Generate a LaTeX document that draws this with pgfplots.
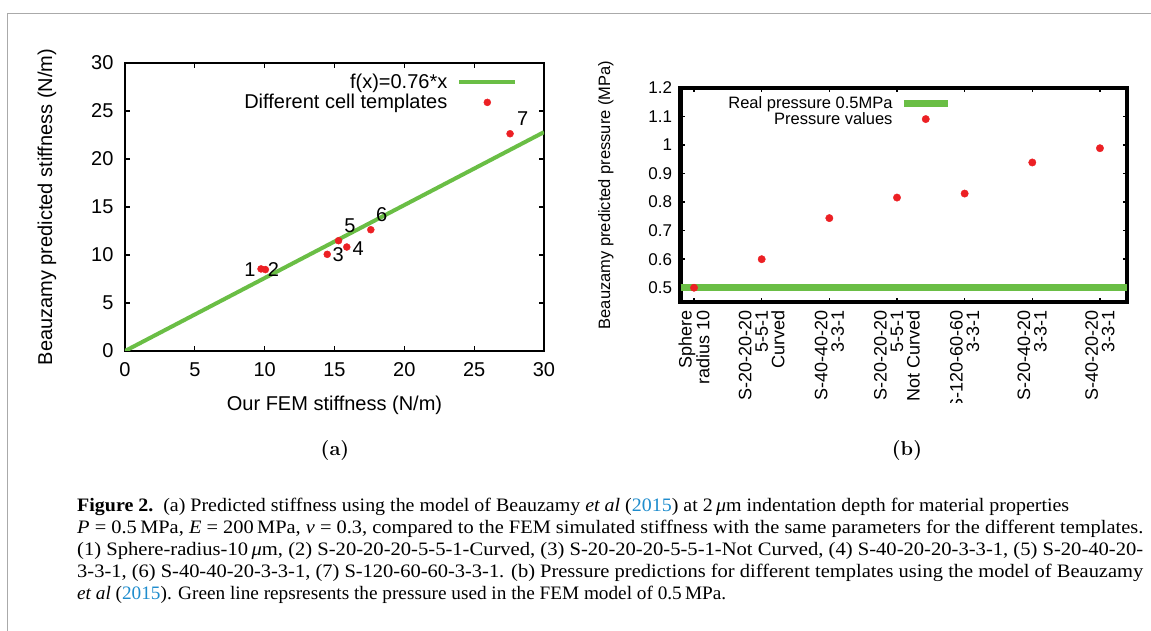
\documentclass[border=0pt]{standalone}
\usepackage{fontspec}
\usepackage{graphicx}
\usepackage{pgfplots}
\pgfplotsset{compat=1.18}
\newfontfamily\plotfont{Liberation Sans}
\newfontfamily\capfont{Liberation Serif}
\definecolor{fitgreen}{RGB}{106,190,69}
\definecolor{ptred}{RGB}{236,32,36}
\definecolor{citeblue}{RGB}{30,140,205}
\definecolor{framegray}{RGB}{170,170,170}

% legend samples: #1 = gap before sample, then sample of fixed length
\pgfplotsset{
  linelegend/.style 2 args={legend image code/.code={\path (0pt,0pt); \draw[##1] (#1,0pt) -- (#1+#2,0pt);}},
  marklegend/.style 2 args={legend image code/.code={\path (0pt,0pt) (#1+#2,0pt); \draw[mark repeat=2,mark phase=2,##1] plot coordinates {(#1,0pt) (#1+#2/2,0pt) (#1+#2,0pt)};}},
}

% stiffness: FEM vs Beauzamy
\pgfplotstableread{
x y
9.74 8.55
10.05 8.48
14.48 10.07
15.88 10.83
15.29 11.49
17.60 12.63
27.57 22.63
}\stiffdata

\pgfplotstableread{
x y
0 0.500
1 0.600
2 0.744
3 0.816
4 0.830
5 0.939
6 0.989
}\pressdata

\begin{document}
\begin{tikzpicture}[x=1pt,y=1pt]
\useasboundingbox (0,0) rectangle (1151,631);
\draw[framegray, line width=1.5pt] (7.5,0) -- (7.5,617.5) -- (1151,617.5);

% (a)
\begin{axis}[
  at={(125pt,280pt)}, anchor=south west,
  scale only axis, width=419pt, height=288pt,
  xmin=0, xmax=30, ymin=0, ymax=30,
  xtick={0,5,...,30}, ytick={0,5,...,30},
  tick align=inside, major tick length=5pt,
  every tick/.style={black, line width=1.2pt},
  axis line style={line width=2.8pt},
  /pgf/number format/assume math mode=true,
  tick label style={font=\plotfont\fontsize{20}{24}\selectfont},
  xticklabel style={yshift=-8pt},
  yticklabel style={xshift=-8pt},
  xlabel={Our FEM stiffness (N/m)},
  ylabel={Beauzamy predicted stiffness (N/m)},
  label style={font=\plotfont\fontsize{20}{24}\selectfont},
  xlabel style={at={(axis description cs:0.5,-0.1875)}, anchor=center},
  ylabel style={at={(axis description cs:-0.186,0.5)}, anchor=center},
  legend style={draw=none, fill=none, at={(axis description cs:0.944,0.975)}, anchor=north east,
    font=\plotfont\fontsize{20}{24}\selectfont, row sep=0pt},
  legend cell align=right, legend plot pos=right,
]
\addplot[fitgreen, line width=4pt, linelegend={8pt}{56pt}]
  coordinates {(0,0) (30,22.8)};
\addlegendentry{f(x)=0.76*x}
\addplot[only marks, mark=*, mark size=3.5pt, ptred, mark options={draw=ptred, fill=ptred}, marklegend={8pt}{56pt}]
  table[x=x, y=y] {\stiffdata};
\addlegendentry{Different cell templates}
\begin{scope}[every node/.style={font=\plotfont\fontsize{20}{24}\selectfont}]
\node at (axis cs:8.95,8.44) {1};
\node at (axis cs:10.62,8.44) {2};
\node at (axis cs:15.27,10.0) {3};
\node at (axis cs:16.70,10.7) {4};
\node at (axis cs:16.11,13.0) {5};
\node at (axis cs:18.38,14.17) {6};
\node at (axis cs:28.47,24.2) {7};
\end{scope}
\end{axis}

% (b)
\begin{scope}
\clip (560,228) rectangle (1151,616);
\begin{axis}[
  at={(680.5pt,329pt)}, anchor=south west,
  scale only axis, width=446.5pt, height=214pt,
  xmin=-0.2, xmax=6.4, ymin=0.45, ymax=1.2,
  xtick={0,...,6}, ytick={0.5,0.6,...,1.2},
  xticklabels={{Sphere\\radius 10},{S-20-20-20\\5-5-1\\Curved},{S-40-40-20\\3-3-1},
    {S-20-20-20\\5-5-1\\Not Curved},{S-120-60-60\\3-3-1},{S-20-40-20\\3-3-1},{S-40-20-20\\3-3-1}},
  tick align=inside, major tick length=4pt,
  every tick/.style={black, line width=1.5pt},
  axis line style={line width=4.5pt},
  /pgf/number format/assume math mode=true,
  yticklabel style={font=\plotfont\fontsize{17}{20}\selectfont, xshift=-5pt},
  xticklabel style={font=\plotfont\fontsize{18}{16.5}\selectfont, yshift=-5pt, rotate=90, anchor=east, align=right},
  ylabel={Beauzamy predicted pressure (MPa)},
  ylabel style={font=\plotfont\fontsize{16.5}{20}\selectfont, at={(axis description cs:-0.167,0.5)}, anchor=center},
  legend style={draw=none, fill=none, at={(axis description cs:0.613,0.978)}, anchor=north east,
    font=\plotfont\fontsize{16.5}{20}\selectfont, row sep=-2pt},
  legend cell align=right, legend plot pos=right,
]
\addplot[fitgreen, line width=6.5pt, linelegend={6pt}{44pt}]
  coordinates {(-0.2,0.5) (6.4,0.5)};
\addlegendentry{Real pressure 0.5MPa}
\addplot[only marks, mark=*, mark size=3.7pt, ptred, mark options={draw=ptred, fill=ptred}, marklegend={6pt}{44pt}]
  table[x=x, y=y] {\pressdata};
\addlegendentry{Pressure values}
\end{axis}
\end{scope}

\node[font=\fontsize{12}{14}\selectfont] at (335,180) {\scalebox{1.67}{\textbf{(a)}}};
\node[font=\fontsize{12}{14}\selectfont] at (907,180) {\scalebox{1.67}{\textbf{(b)}}};

% caption
\begin{scope}[every node/.style={anchor=base west, inner sep=0pt, font=\capfont\fontsize{19}{22}\selectfont}]
\node at (77,119) {\resizebox{992pt}{\height}{\textbf{Figure 2.}\enspace (a) Predicted stiffness using the model of Beauzamy \textit{et al} (\textcolor{citeblue}{2015}) at 2\,\textit{μ}m indentation depth for material properties}};
\node at (77,97) {\resizebox{1066pt}{\height}{\textit{P} = 0.5\,MPa, \textit{E} = 200\,MPa, \textit{ν} = 0.3, compared to the FEM simulated stiffness with the same parameters for the different templates.}};
\node at (77,75) {\resizebox{1066pt}{\height}{(1) Sphere-radius-10\,\textit{μ}m, (2) S-20-20-20-5-5-1-Curved, (3) S-20-20-20-5-5-1-Not Curved, (4) S-40-20-20-3-3-1, (5) S-20-40-20-}};
\node at (77,53) {\resizebox{1066pt}{\height}{3-3-1, (6) S-40-40-20-3-3-1, (7) S-120-60-60-3-3-1. (b) Pressure predictions for different templates using the model of Beauzamy}};
\node at (77,31) {\resizebox{649pt}{\height}{\textit{et al} (\textcolor{citeblue}{2015}). Green line repsresents the pressure used in the FEM model of 0.5\,MPa.}};
\end{scope}
\end{tikzpicture}
\end{document}
